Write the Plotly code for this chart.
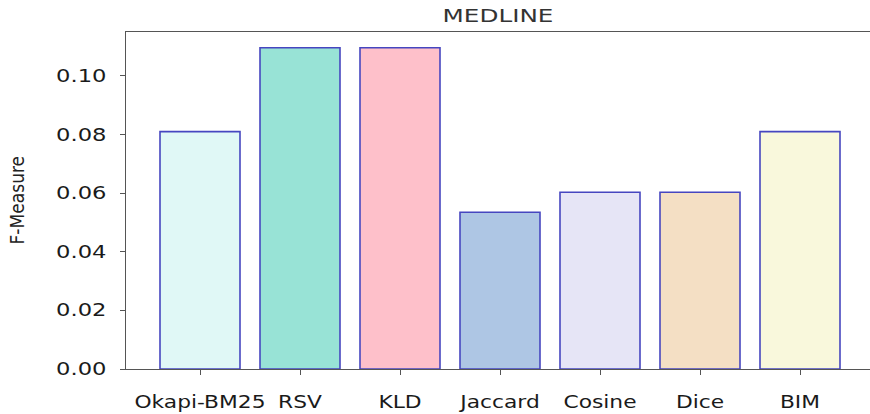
import plotly.graph_objects as go

# F-Measure per retrieval model on the MEDLINE collection
models = ["Okapi-BM25", "RSV", "KLD", "Jaccard", "Cosine", "Dice", "BIM"]
f_measure = [0.081, 0.1096, 0.1096, 0.0535, 0.0603, 0.0603, 0.081]
bar_colors = ["#E0F8F6", "#98E3D6", "#FEC0CA", "#AEC6E4", "#E6E5F6", "#F4DFC4", "#F9F8DC"]
y_ticks = [0.00, 0.02, 0.04, 0.06, 0.08, 0.10]

fig = go.Figure(
    go.Bar(
        x=models,
        y=f_measure,
        marker=dict(color=bar_colors, line=dict(color="#4646C0", width=1.6)),
        width=0.8,
    )
)

axis_font = dict(family="DejaVu Sans", size=17, color="#1a1a1a")

fig.update_layout(
    width=870,
    height=414,
    margin=dict(l=126, r=0, t=32, b=45),
    paper_bgcolor="white",
    plot_bgcolor="white",
    showlegend=False,
    title=dict(
        text="MEDLINE",
        x=498 / 870,
        xanchor="center",
        y=1 - 16 / 414,
        yanchor="middle",
        font=dict(family="DejaVu Sans", size=17, color="#333333"),
    ),
    xaxis=dict(
        range=[-0.74, 6.70],
        showline=True,
        linecolor="#555555",
        linewidth=1.3,
        mirror=True,
        ticks="outside",
        ticklen=5,
        tickcolor="#555555",
        tickfont=axis_font,
        ticklabelstandoff=12,
        showgrid=False,
        zeroline=False,
    ),
    yaxis=dict(
        range=[0, 0.115],
        tickvals=y_ticks,
        tickformat=".2f",
        showline=True,
        linecolor="#555555",
        linewidth=1.3,
        ticks="outside",
        ticklen=5,
        tickcolor="#555555",
        tickfont=axis_font,
        ticklabelstandoff=10,
        showgrid=False,
        zeroline=False,
    ),
    annotations=[
        dict(
            text="F-Measure",
            xref="paper",
            yref="paper",
            x=-(126 - 16) / 744,
            y=0.5,
            xanchor="center",
            yanchor="middle",
            textangle=-90,
            showarrow=False,
            font=dict(family="Liberation Sans Narrow, DejaVu Sans Condensed, sans-serif", size=19, color="#222222"),
        )
    ],
)

# Widen the labels horizontally (wide-set lettering) while keeping them as SVG text.
stretch_js = """
var gd = document.getElementById('{plot_id}');
function widen(sel, factor) {
  gd.querySelectorAll(sel).forEach(function (t) {
    if (t.getAttribute('data-widened')) return;
    var w = t.getComputedTextLength();
    if (w > 0) {
      t.setAttribute('textLength', (w * factor).toFixed(1));
      t.setAttribute('lengthAdjust', 'spacingAndGlyphs');
      t.setAttribute('data-widened', '1');
    }
  });
}
function widenAll() {
  widen('.xtick text', 1.28);
  widen('.ytick text', 1.33);
  widen('.gtitle', 1.45);
}
widenAll();
gd.on('plotly_afterplot', widenAll);
"""

fig.write_html("out.html", post_script=stretch_js)
